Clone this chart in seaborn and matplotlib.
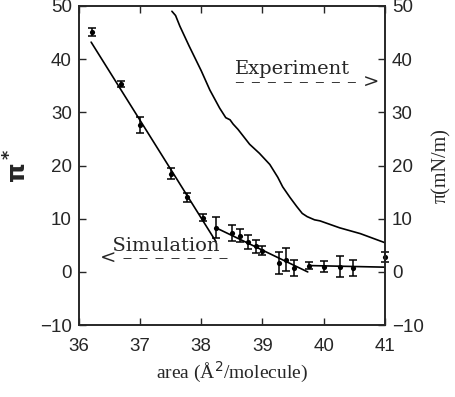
import numpy as np
import pandas as pd
import matplotlib
matplotlib.use("Agg")
import matplotlib.pyplot as plt
import seaborn as sns

# simulation points (pi*) with error bars
sim_area = [36.21, 36.69, 37.0, 37.5, 37.76, 38.03, 38.24, 38.5, 38.63, 38.77, 38.9, 39.0,
            39.27, 39.38, 39.51, 39.76, 40.0, 40.26, 40.48, 41.0]
sim_pi = [45.1, 35.3, 27.7, 18.5, 14.0, 10.2, 8.3, 7.4, 6.8, 5.7, 4.8, 4.0,
          1.7, 2.3, 0.8, 1.2, 1.0, 1.0, 0.8, 2.8]
sim_err = [0.8, 0.6, 1.5, 1.0, 0.9, 0.7, 2.0, 1.5, 1.2, 1.3, 1.2, 0.9,
           2.0, 2.2, 1.5, 0.6, 1.0, 2.0, 1.5, 1.0]

# piecewise linear fits through the simulation
fit1_area = [36.2, 38.24]
fit1_pi = [43.2, 5.7]
fit2_area = [38.24, 39.74]
fit2_pi = [8.3, 0.0]
fit3_area = [39.76, 41.0]
fit3_pi = [1.2, 0.9]

# experimental isotherm (mN/m)
exp_area = [37.52, 37.58, 37.65, 37.8, 38.0, 38.14, 38.3, 38.4, 38.47, 38.52, 38.6, 38.79,
            38.95, 39.12, 39.25, 39.33, 39.45, 39.56, 39.65, 39.73, 39.85, 39.94, 40.26,
            40.6, 41.0]
exp_pi = [49.0, 48.2, 46.2, 42.5, 37.8, 34.2, 30.8, 29.0, 28.6, 27.8, 26.8, 24.0,
          22.3, 20.2, 17.8, 16.0, 14.0, 12.3, 11.0, 10.4, 9.8, 9.6, 8.3,
          7.2, 5.5]

ticks_y = [-10, 0, 10, 20, 30, 40, 50]
tick_labels_y = ["\u221210", "0", "10", "20", "30", "40", "50"]

sns.set_style("ticks")
plt.rcParams["font.family"] = ["Liberation Sans", "DejaVu Sans"]

fig = plt.figure(figsize=(4.56, 3.97), dpi=100)
ax = fig.add_axes([0.173, 0.181, 0.671, 0.804])

df_sim = pd.DataFrame({"area": sim_area, "pi": sim_pi})
ax.errorbar(sim_area, sim_pi, yerr=sim_err, fmt="none", ecolor="black",
            elinewidth=1.1, capsize=3, capthick=1.1, clip_on=False, zorder=3)
sns.scatterplot(data=df_sim, x="area", y="pi", ax=ax, color="black", s=14,
                edgecolor="black", linewidth=0, clip_on=False, zorder=4)
for xa, ya in [(fit1_area, fit1_pi), (fit2_area, fit2_pi), (fit3_area, fit3_pi)]:
    sns.lineplot(x=xa, y=ya, ax=ax, color="black", linewidth=1.2, sort=False)

ax.set_xlim(36, 41)
ax.set_ylim(-10, 50)
ax.set_xticks([36, 37, 38, 39, 40, 41])
ax.set_yticks(ticks_y)
ax.set_yticklabels(tick_labels_y)
ax.tick_params(axis="y", direction="in", length=5, width=1, labelsize=13.5, pad=5)
ax.tick_params(axis="x", direction="in", length=5, width=1, labelsize=13.5, top=True,
               pad=9)
ax.set_xlabel("area (\u00c5$^2$/molecule)", family="Liberation Serif", fontsize=14,
              labelpad=4)
ax.set_ylabel(r"$\mathbf{\pi^*}$", fontsize=18, labelpad=6)

ax2 = ax.twinx()
df_exp = pd.DataFrame({"area": exp_area, "pi": exp_pi})
sns.lineplot(data=df_exp, x="area", y="pi", ax=ax2, color="black", linewidth=1.2,
             sort=False)
ax2.set_ylim(-10, 50)
ax2.set_yticks(ticks_y)
ax2.set_yticklabels(tick_labels_y)
ax2.tick_params(direction="in", length=5, width=1, labelsize=13.5, pad=5)
ax2.set_ylabel("\u03c0(mN/m)", family="Liberation Serif", fontsize=14.5, labelpad=6)
ax2.set_xlabel("")

for a in (ax, ax2):
    for s in a.spines.values():
        s.set_linewidth(1.2)

serif = "DejaVu Serif"
ax.text(38.55, 36.9, "Experiment\n" + "\u2013 " * 8 + ">",
        family=serif, fontsize=14, va="center", ha="left", linespacing=0.6)
ax.text(36.34, 3.8, "  Simulation\n<" + " \u2013" * 7,
        family=serif, fontsize=14, va="center", ha="left", linespacing=0.6)

fig.savefig("out.png", dpi=100)
